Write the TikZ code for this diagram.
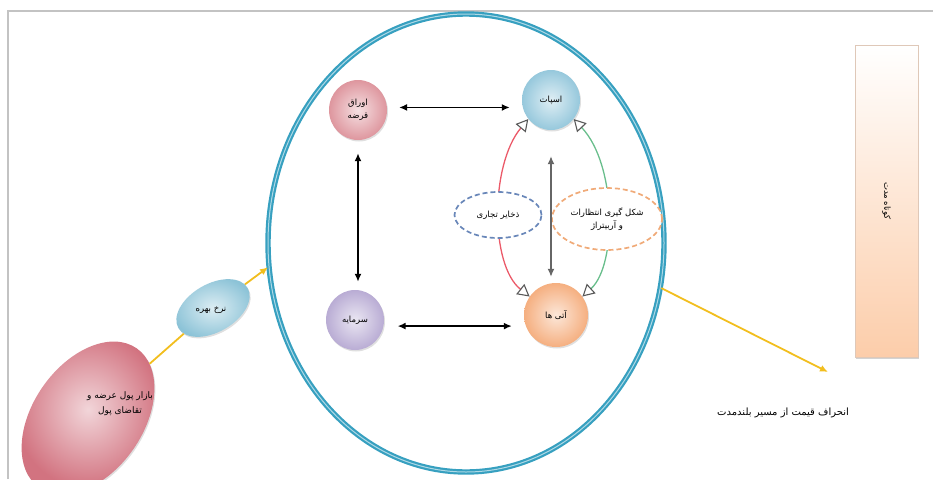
\documentclass[tikz,border=0pt]{standalone}
\usepackage{fontspec}
\newfontfamily\arabicfont[Script=Arabic]{DejaVu Sans}
\TeXXeTstate=1
\usetikzlibrary{shapes.geometric,arrows.meta,shadows}
\newcommand\RLtxt[1]{\beginR#1\endR}
\definecolor{bigc}{RGB}{55,160,192}
\definecolor{okrc}{RGB}{222,150,158}
\definecolor{spotc}{RGB}{150,200,220}
\definecolor{sarmc}{RGB}{185,172,212}
\definecolor{atic}{RGB}{245,175,128}
\definecolor{nerkhc}{RGB}{140,195,215}
\definecolor{bazarc}{RGB}{210,115,128}
\definecolor{yel}{RGB}{242,190,30}
\definecolor{redl}{RGB}{235,90,105}
\definecolor{greenl}{RGB}{105,190,140}
\definecolor{dblue}{RGB}{105,135,185}
\definecolor{dorange}{RGB}{240,170,120}
\definecolor{framec}{RGB}{195,195,195}
\definecolor{rectc}{RGB}{252,205,170}
\tikzset{
  arab/.style={font=\arabicfont\fontsize{8.5}{12.5}\selectfont, align=center, text=black},
  ball/.style={ellipse, inner sep=0, minimum width=58pt, minimum height=60pt, shading=radial,
    drop shadow={opacity=.25, shadow xshift=1pt, shadow yshift=-1.5pt}, arab},
  dblarrow/.style={black, line width=1.7pt, {Latex[length=8pt,width=7pt]}-{Latex[length=8pt,width=7pt]}},
  tarr/.style={{Triangle[length=12pt,width=13pt,color=gray!70!black,fill=white,line width=1.1pt]}-{Triangle[length=12pt,width=13pt,color=gray!70!black,fill=white,line width=1.1pt]}},
  yarr/.style={yel, line width=1.8pt, -{Latex[length=8pt,width=7pt]}},
  dashell/.style={ellipse, inner sep=0, fill=white, line width=1.7pt, dash pattern=on 5pt off 3pt, arab}
}
\begin{document}
\begin{tikzpicture}[x=1pt,y=-1pt]
\useasboundingbox (0,0) rectangle (933,479);
\draw[framec, line width=1.4pt] (8,479) -- (8,11) -- (933,11);

% big circle
\node[ellipse, minimum width=396pt, minimum height=458pt, inner sep=0, draw=bigc, line width=2.2pt,
  double=bigc!40!white, double distance=1pt] (big) at (466,243) {};

% four main nodes
\node[ball, inner color=okrc!30!white, outer color=okrc] (okr) at (358,110) {\RLtxt{اوراق}\\\RLtxt{قرضه}};
\node[ball, inner color=spotc!30!white, outer color=spotc] (spot) at (551,100) {\RLtxt{اسپات}};
\node[ball, inner color=sarmc!30!white, outer color=sarmc] (sarm) at (355,320) {\RLtxt{سرمایه}};
\node[ball, minimum width=64pt, minimum height=64pt, inner color=atic!30!white, outer color=atic] (ati) at (556,315) {\RLtxt{آتی ها}};

% curved links
\draw[redl, line width=1.3pt, tarr] (spot.-140) .. controls (490,165) and (490,265) .. (ati.145);
\draw[greenl, line width=1.3pt, tarr] (spot.-40) .. controls (617,165) and (617,265) .. (ati.35);

% dashed ellipses
\node[dashell, draw=dblue, minimum width=87pt, minimum height=46pt] (zakh) at (498,215) {\RLtxt{ذخایر تجاری}};
\node[dashell, draw=dorange, minimum width=110pt, minimum height=62pt] (shekl) at (607,219)
  {\RLtxt{شکل گیری انتظارات}\\\RLtxt{و آربیتراژ}};

% black arrows
\draw[dblarrow, shorten <=12pt, shorten >=12pt] (okr.5) -- (okr.5 -| spot.west);
\draw[dblarrow, shorten <=13pt, shorten >=8pt] (okr.south) -- (okr.south |- sarm.north);
\draw[dblarrow, shorten <=14pt, shorten >=12pt] (sarm.-12) -- (sarm.-12 -| ati.west);
\draw[dblarrow, black!60, line width=1.4pt, shorten <=26pt, shorten >=6pt] (spot.south) -- (spot.south |- ati.north);

% right rectangle
\node[rectangle, minimum width=63pt, minimum height=312pt, top color=white, bottom color=rectc,
  draw=rectc!80!black!60, line width=0.6pt, drop shadow={opacity=.35, shadow xshift=1pt, shadow yshift=-2pt}] (kmt) at (886.5,201) {};
\node[arab, rotate=-90] (kmtlbl) at (kmt) {\RLtxt{کوتاه مدت}};

% left ellipses
\node[ellipse, inner sep=0, minimum width=110pt, minimum height=170pt, rotate=-35, shading=radial,
  inner color=bazarc!30!white, outer color=bazarc,
  drop shadow={opacity=.25, shadow xshift=1pt, shadow yshift=-1.5pt}] (bazar) at (88,418) {};
\node[arab, font=\arabicfont\fontsize{9}{15}\selectfont] (bazarlbl) at (120,404) {\RLtxt{بازار پول عرضه و}\\\RLtxt{تقاضای پول}};
\node[ellipse, inner sep=0, minimum width=80pt, minimum height=48pt, rotate=30, shading=radial,
  inner color=nerkhc!30!white, outer color=nerkhc,
  drop shadow={opacity=.25, shadow xshift=1pt, shadow yshift=-1.5pt}] (nerkh) at (213,308) {};
\node[arab] (nerkhlbl) at (211,310) {\RLtxt{نرخ بهره}};

% yellow links
\coordinate (yend) at (828,372);
\draw[yel, line width=1.8pt] (bazar) -- (nerkh);
\draw[yarr] (nerkh) -- (big.187);
\draw[yarr] (big.-13) -- (yend);

% bottom label
\node[arab, font=\arabicfont\fontsize{10}{12}\selectfont] (enheraf) at (783,413) {\RLtxt{انحراف قیمت از مسیر بلندمدت}};
\end{tikzpicture}
\end{document}
